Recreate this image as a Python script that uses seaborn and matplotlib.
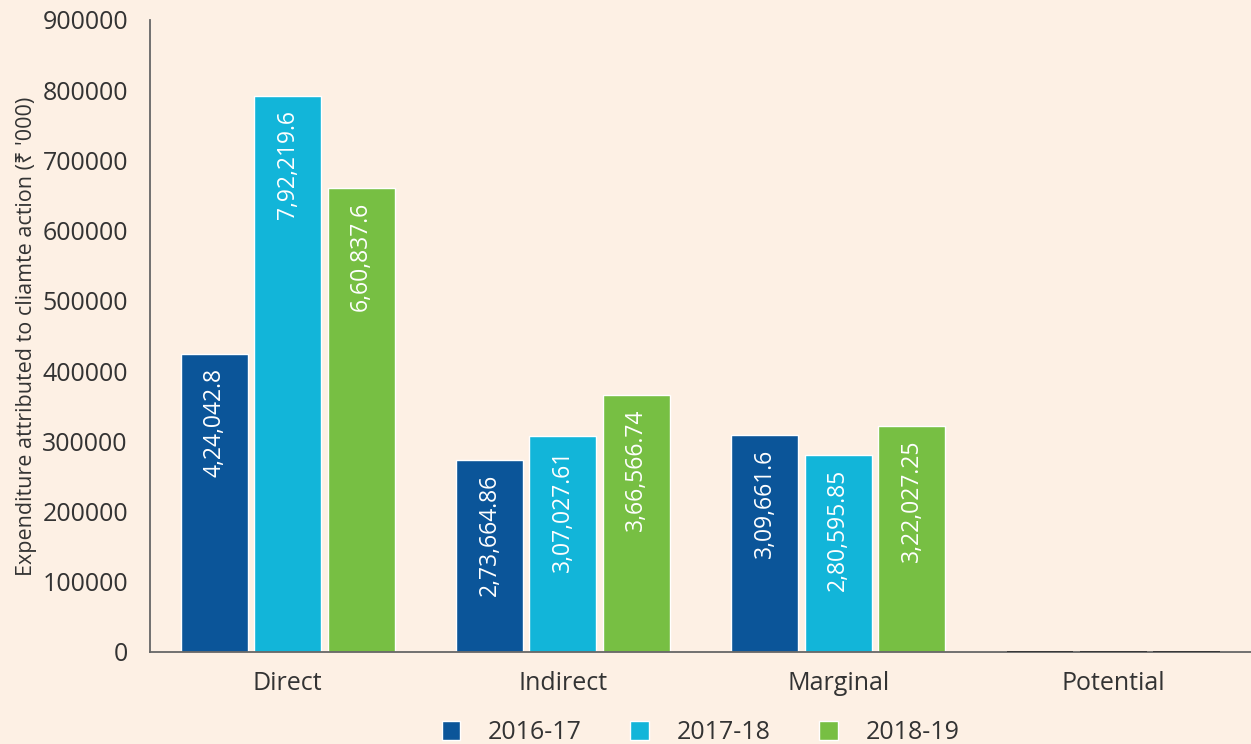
import pandas as pd
import matplotlib.pyplot as plt
import seaborn as sns

categories = ["Direct", "Indirect", "Marginal", "Potential"]
years = ["2016-17", "2017-18", "2018-19"]
values_2016 = [424042.8, 273664.86, 309661.6, 0]
values_2017 = [792219.6, 307027.61, 280595.85, 0]
values_2018 = [660837.6, 366566.74, 322027.25, 0]
labels_2016 = ["4,24,042.8", "2,73,664.86", "3,09,661.6", ""]
labels_2017 = ["7,92,219.6", "3,07,027.61", "2,80,595.85", ""]
labels_2018 = ["6,60,837.6", "3,66,566.74", "3,22,027.25", ""]
colors = ["#0B5599", "#12B5D9", "#77BF43"]

bg = "#FDF0E4"
sns.set_style("white")
plt.rcParams['font.family'] = ['Open Sans', 'Noto Sans', 'DejaVu Sans']

data = pd.DataFrame({
    "Category": categories * 3,
    "Year": [years[0]] * 4 + [years[1]] * 4 + [years[2]] * 4,
    "Value": values_2016 + values_2017 + values_2018,
})
all_labels = [labels_2016, labels_2017, labels_2018]

fig = plt.figure(figsize=(12.51, 7.44), dpi=100, facecolor=bg)
ax = fig.add_axes([0.12, 0.1237, 0.88, 0.8495])
ax.set_facecolor(bg)

sns.barplot(data=data, x="Category", y="Value", hue="Year", palette=colors,
            width=0.80, gap=0.088, saturation=1, ax=ax)

# value labels inside the bar top, rotated
for container, labs in zip(ax.containers, all_labels):
    for bar, lab in zip(container, labs):
        h = bar.get_height()
        if h == 0:
            bar.set_edgecolor("#333333")
            bar.set_linewidth(1.3)
            bar.set_zorder(4)
            continue
        ax.annotate(lab, (bar.get_x() + bar.get_width() / 2, h),
                    xytext=(0, -10), textcoords="offset points",
                    rotation=90, ha="center", va="top",
                    color="white", fontsize=16.5)

ax.set_xlim(-0.5, 3.5)
ax.set_ylim(0, 900000)
ax.set_yticks(range(0, 900001, 100000))
ax.set_yticklabels([str(v) for v in range(0, 900001, 100000)])
ax.set_xlabel("")
ax.set_ylabel("Expenditure attributed to cliamte action (\u20b9 '000)",
              fontsize=15.5, color="#333333", labelpad=4)

for s in ["top", "right"]:
    ax.spines[s].set_visible(False)
for s in ["left", "bottom"]:
    ax.spines[s].set_color("#666666")
    ax.spines[s].set_linewidth(1.3)

ax.tick_params(axis="y", direction="out", length=10, width=1.3, color="#666666",
               labelsize=18, labelcolor="#333333", pad=6)
ax.tick_params(axis="x", which="major", length=0, labelsize=18,
               labelcolor="#333333", pad=14)
ax.set_xticks([0.5, 1.5, 2.5], minor=True)
ax.tick_params(axis="x", which="minor", direction="in", length=10, width=1.3,
               color="#666666")

leg = ax.legend(loc="center", bbox_to_anchor=(0.5, -0.128), ncol=3,
                frameon=False, fontsize=18, handlelength=0.75, handleheight=0.75,
                columnspacing=1.95, handletextpad=1.1, labelcolor="#333333")

plt.savefig("out.png", dpi=100, facecolor=bg)
